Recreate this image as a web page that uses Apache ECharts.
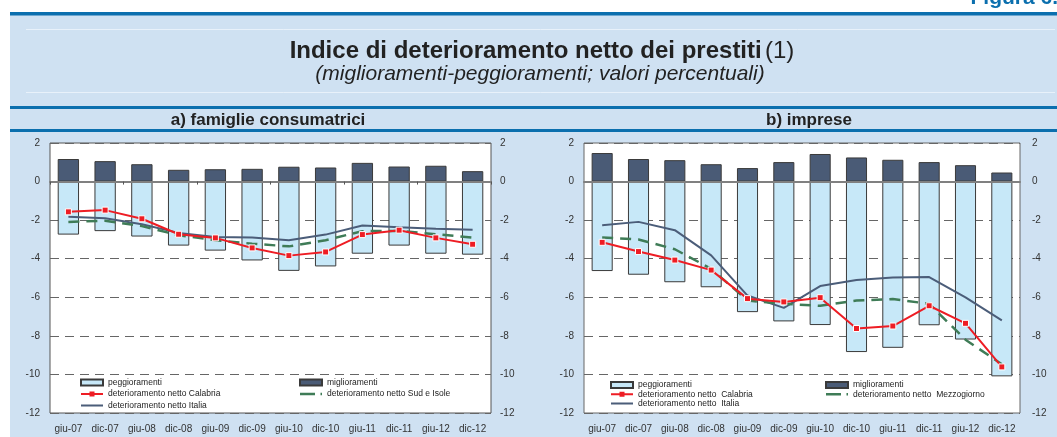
<!DOCTYPE html>
<html>
<head>
<meta charset="utf-8">
<title>Indice di deterioramento netto dei prestiti</title>
<script src="https://cdn.jsdelivr.net/npm/echarts@6/dist/echarts.min.js"></script>
<style>
  html, body { margin: 0; padding: 0; background: #fff; }
  #chart { width: 1057px; height: 437px; }
</style>
</head>
<body>
<div id="chart"></div>
<script>
// periodi (semestri)
var categories = ['giu-07', 'dic-07', 'giu-08', 'dic-08', 'giu-09', 'dic-09', 'giu-10', 'dic-10', 'giu-11', 'dic-11', 'giu-12', 'dic-12'];
var yTicks = [2, 0, -2, -4, -6, -8, -10, -12];

// a) famiglie consumatrici
var migliorFam = [1.17, 1.06, 0.90, 0.61, 0.64, 0.66, 0.77, 0.73, 0.97, 0.78, 0.82, 0.54];
var peggiorFam = [-2.75, -2.57, -2.85, -3.32, -3.58, -4.09, -4.63, -4.40, -3.74, -3.32, -3.74, -3.79];
var calabriaFam = [-1.57, -1.48, -1.93, -2.73, -2.92, -3.44, -3.84, -3.65, -2.75, -2.52, -2.92, -3.25];
var italiaFam = [-1.83, -1.90, -2.21, -2.66, -2.87, -2.90, -3.04, -2.75, -2.28, -2.37, -2.45, -2.50];
var sudFam = [-2.09, -2.03, -2.31, -2.78, -3.04, -3.22, -3.36, -3.04, -2.57, -2.56, -2.73, -2.90];

// b) imprese
var migliorImp = [1.48, 1.17, 1.11, 0.90, 0.70, 1.01, 1.43, 1.25, 1.13, 1.01, 0.85, 0.47];
var peggiorImp = [-4.64, -4.83, -5.22, -5.48, -6.77, -7.25, -7.44, -8.84, -8.62, -7.45, -8.19, -10.10];
var calabriaImp = [-3.15, -3.63, -4.07, -4.59, -6.07, -6.24, -6.02, -7.62, -7.49, -6.44, -7.35, -9.61];
var italiaImp = [-2.26, -2.09, -2.52, -3.83, -5.91, -6.55, -5.42, -5.10, -4.97, -4.95, -6.00, -7.20];
var mezzImp = [-2.90, -3.00, -3.51, -4.52, -6.17, -6.34, -6.44, -6.17, -6.09, -6.34, -8.20, -9.47];

var FONT = 'Liberation Sans, Arial, sans-serif';
var BLU = '#0b6fae';
var PANEL = '#cfe1f2';
var C_PEG = '#c7e8f8';
var C_MIG = '#4a5b76';
var C_CAL = '#ee1d24';
var C_ITA = '#4b5d79';
var C_SUD = '#3f7c57';

// icone della legenda per le linee (il primo rettangolino serve solo a fissare l'altezza 22x6)
var ICON_ITA = 'path://M0,0h0.01v6h-0.01z M0,2h22v2h-22z';
var ICON_CAL = 'path://M0,0h0.01v6h-0.01z M0,2h22v2h-22z M8.5,0.5h5v5h-5z';
var ICON_SUD = 'path://M0,0h0.01v6h-0.01z M0,1.8h15v2.5h-15z M20.5,1.8h1.5v2.5h-1.5z';

var myChart = echarts.init(document.getElementById('chart'));

// assi per un pannello: etichette in basso, linea dello zero, asse y sinistro e destro
function xAxes(g, ticks) {
  return [
    {
      gridIndex: g, type: 'category', data: categories, position: 'bottom',
      axisLine: { show: false, onZero: false }, axisTick: { show: false },
      axisLabel: { fontSize: 10, color: '#333', fontFamily: FONT, margin: 11 }
    },
    {
      gridIndex: g, type: 'category', data: categories, position: 'bottom', z: 5,
      axisLine: { show: true, onZero: true, onZeroAxisIndex: g * 2, lineStyle: { color: '#808080', width: 2 } },
      axisTick: { show: ticks, length: 3, lineStyle: { color: '#555' } },
      axisLabel: { show: false }
    }
  ];
}
function yAxes(g, marginRight) {
  var base = {
    gridIndex: g, type: 'value', min: yTicks[yTicks.length - 1], max: yTicks[0], interval: 2,
    axisLine: { show: false }, axisTick: { show: false }
  };
  return [
    Object.assign({}, base, {
      position: 'left',
      axisLabel: { fontSize: 10, color: '#333', fontFamily: FONT, margin: 10 },
      splitLine: { show: true, lineStyle: { color: '#666', width: 1, type: [9, 6] } }
    }),
    Object.assign({}, base, {
      position: 'right',
      axisLabel: { fontSize: 10, color: '#333', fontFamily: FONT, margin: marginRight },
      splitLine: { show: false }
    })
  ];
}

function barSerie(name, data, g, color) {
  return {
    name: name, type: 'bar', data: data,
    xAxisIndex: g * 2, yAxisIndex: g * 2,
    barWidth: '58%', barGap: '-100%',
    itemStyle: { color: color, borderColor: '#3a3a3a', borderWidth: 1 }
  };
}
function lineSerie(name, data, g, color, dashed, marker) {
  return {
    name: name, type: 'line', data: data,
    xAxisIndex: g * 2, yAxisIndex: g * 2, z: 4,
    symbol: marker ? 'rect' : 'none', symbolSize: 6, showSymbol: !!marker,
    lineStyle: { color: color, width: dashed ? 2.5 : 2, type: dashed ? [11, 7] : 'solid' },
    itemStyle: { color: color, borderColor: '#fff', borderWidth: 1 }
  };
}
function voce(name, icon, color) {
  return { name: name, icon: icon, itemStyle: { color: color, borderWidth: 0 } };
}

function legenda(left, top, gap, lh, data) {
  return {
    left: left, top: top, orient: 'vertical', padding: 0,
    itemWidth: 22, itemHeight: 6, itemGap: gap, selectedMode: false,
    textStyle: { fontSize: 8.5, color: '#222', fontFamily: FONT, lineHeight: lh, padding: 0 },
    data: data
  };
}

myChart.setOption({
  backgroundColor: '#fff',
  animation: false,
  graphic: [
    { type: 'rect', z: -10, shape: { x: 10, y: 15, width: 1047, height: 422 }, style: { fill: PANEL } },
    { type: 'rect', z: -9, shape: { x: 10, y: 12, width: 1047, height: 3.5 }, style: { fill: BLU } },
    { type: 'rect', z: -9, shape: { x: 10, y: 106, width: 1047, height: 3 }, style: { fill: BLU } },
    { type: 'rect', z: -9, shape: { x: 10, y: 129, width: 1047, height: 3 }, style: { fill: BLU } },
    { type: 'line', z: -9, shape: { x1: 26, y1: 29.5, x2: 1055, y2: 29.5 }, style: { stroke: '#e8f1fa', lineWidth: 1 } },
    { type: 'line', z: -9, shape: { x1: 26, y1: 92.5, x2: 1055, y2: 92.5 }, style: { stroke: '#e8f1fa', lineWidth: 1 } },
    {
      type: 'text', z: 50, x: 1058, y: -1.5,
      style: { text: 'Figura 6.', fill: BLU, font: 'bold 21px ' + FONT, align: 'right', verticalAlign: 'middle' }
    },
    {
      type: 'text', z: 50, x: 542, y: 51,
      style: {
        text: '{b|Indice di deterioramento netto dei prestiti} {n|(1)}',
        align: 'center', verticalAlign: 'middle',
        rich: {
          b: { fontSize: 24, fontWeight: 'bold', fontFamily: FONT, fill: '#222' },
          n: { fontSize: 24, fontWeight: 'normal', fontFamily: FONT, fill: '#222' }
        }
      }
    },
    {
      type: 'text', z: 50, x: 540, y: 74,
      style: { text: '(miglioramenti-peggioramenti; valori percentuali)', fill: '#222', font: 'italic 21px ' + FONT, align: 'center', verticalAlign: 'middle' }
    },
    {
      type: 'text', z: 50, x: 268, y: 120,
      style: { text: 'a) famiglie consumatrici', fill: '#222', font: 'bold 17px ' + FONT, align: 'center', verticalAlign: 'middle' }
    },
    {
      type: 'text', z: 50, x: 809, y: 120,
      style: { text: 'b) imprese', fill: '#222', font: 'bold 17px ' + FONT, align: 'center', verticalAlign: 'middle' }
    }
  ],
  grid: [
    { left: 50, top: 143, width: 441, height: 270, show: true, backgroundColor: '#fff', borderColor: '#555', borderWidth: 1 },
    { left: 584, top: 143, width: 436, height: 270, show: true, backgroundColor: '#fff', borderColor: '#666', borderWidth: 1 }
  ],
  xAxis: xAxes(0, true).concat(xAxes(1, false)),
  yAxis: yAxes(0, 9).concat(yAxes(1, 12)),
  legend: [
    legenda(80, 377, 0.5, 11, [
      { name: 'peggioramenti', icon: 'rect' },
      voce('deterioramento netto Calabria', ICON_CAL, C_CAL),
      voce('deterioramento netto Italia', ICON_ITA, C_ITA)
    ]),
    legenda(299, 377, 0.5, 11, [
      { name: 'miglioramenti', icon: 'rect' },
      voce('deterioramento netto Sud e Isole', ICON_SUD, C_SUD)
    ]),
    legenda(610, 380.5, 0.2, 9, [
      { name: 'peggioramenti', icon: 'rect' },
      voce('deterioramento netto  Calabria', ICON_CAL, C_CAL),
      voce('deterioramento netto  Italia', ICON_ITA, C_ITA)
    ]),
    legenda(825, 380.5, 0.2, 9, [
      { name: 'miglioramenti', icon: 'rect' },
      voce('deterioramento netto  Mezzogiorno', ICON_SUD, C_SUD)
    ])
  ],
  series: [
    barSerie('peggioramenti', peggiorFam, 0, C_PEG),
    barSerie('miglioramenti', migliorFam, 0, C_MIG),
    lineSerie('deterioramento netto Italia', italiaFam, 0, C_ITA, false, false),
    lineSerie('deterioramento netto Sud e Isole', sudFam, 0, C_SUD, true, false),
    lineSerie('deterioramento netto Calabria', calabriaFam, 0, C_CAL, false, true),

    barSerie('peggioramenti', peggiorImp, 1, C_PEG),
    barSerie('miglioramenti', migliorImp, 1, C_MIG),
    lineSerie('deterioramento netto  Italia', italiaImp, 1, C_ITA, false, false),
    lineSerie('deterioramento netto  Mezzogiorno', mezzImp, 1, C_SUD, true, false),
    lineSerie('deterioramento netto  Calabria', calabriaImp, 1, C_CAL, false, true)
  ]
});
</script>
</body>
</html>
